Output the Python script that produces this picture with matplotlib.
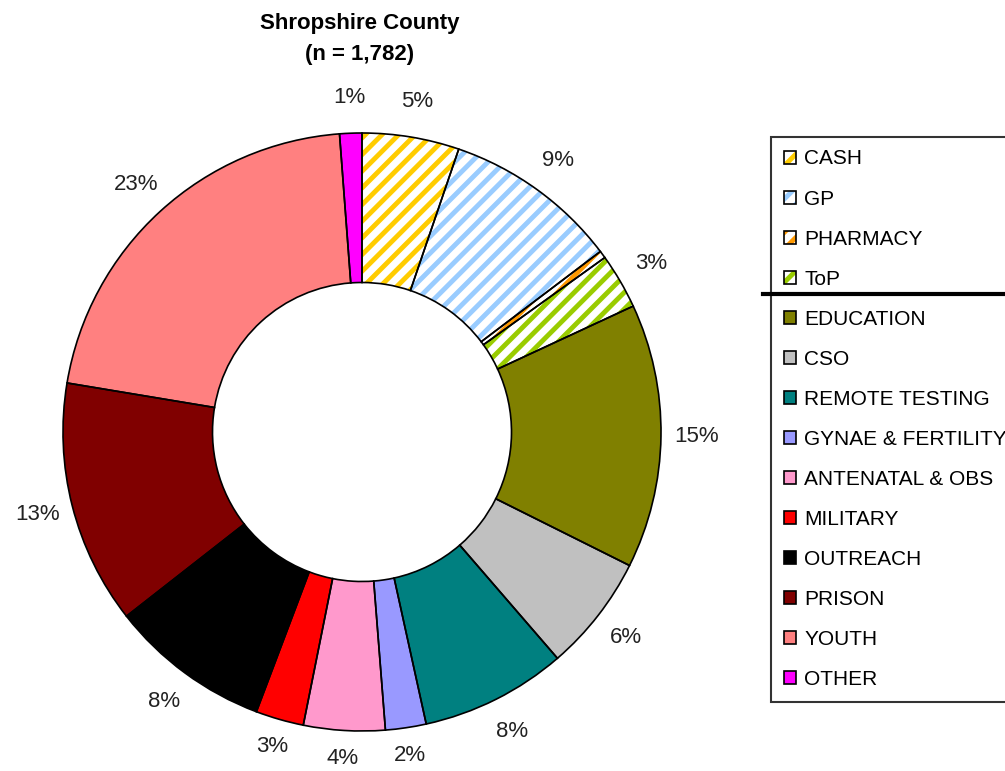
import numpy as np
import matplotlib
matplotlib.use("Agg")
from matplotlib import pyplot as plt
from matplotlib.patches import Patch
from matplotlib.lines import Line2D

plt.rcParams['font.family'] = ['Liberation Sans', 'DejaVu Sans']
plt.rcParams['hatch.linewidth'] = 3.5

# services, clockwise from 12 o'clock
servicios = ["CASH", "GP", "PHARMACY", "ToP", "EDUCATION", "CSO", "REMOTE TESTING",
             "GYNAE & FERTILITY", "ANTENATAL & OBS", "MILITARY", "OUTREACH",
             "PRISON", "YOUTH", "OTHER"]
porcentajes = [5.25, 9.45, 0.4, 3.0, 14.3, 6.3, 7.9, 2.2, 4.4, 2.6, 8.7, 13.2, 21.2, 1.2]
etiquetas = ["5%", "9%", "", "3%", "15%", "6%", "8%", "2%", "4%", "3%", "8%", "13%", "23%", "1%"]
colores = ["#FFCC00", "#99CCFF", "#FF9900", "#99CC00", "#808000", "#C0C0C0", "#008080",
           "#9999FF", "#FF99CC", "#FF0000", "#000000", "#800000", "#FF8080", "#FF00FF"]
rayado = [True, True, True, True] + [False] * 10

fig = plt.figure(figsize=(10.05, 7.71), dpi=100)

# axes sized so radius 1 = 299 px, centre at (362, 432) px
W, H = 1005, 771
half = 330
ax = fig.add_axes([(362 - half) / W, (H - 432 - half) / H, 2 * half / W, 2 * half / H])

# fill pass
wedges, _ = ax.pie(porcentajes, startangle=90, counterclock=False,
                   wedgeprops=dict(width=0.5, linewidth=0))
for w, c, h in zip(wedges, colores, rayado):
    if h:
        w.set_facecolor('white')
        w.set_edgecolor(c)
        w.set_hatch('//')
    else:
        w.set_facecolor(c)

# outline pass
outline, _ = ax.pie(porcentajes, startangle=90, counterclock=False,
                    wedgeprops=dict(width=0.5, facecolor='none', edgecolor='black', linewidth=1.2))

# pie() resets the limits, so set them afterwards
lim = half / 299
ax.set_xlim(-lim, lim)
ax.set_ylim(-lim, lim)
ax.set_aspect('equal')
ax.axis('off')

# porcentajes fuera del anillo
for w, txt in zip(wedges, etiquetas):
    if not txt:
        continue
    ang = np.deg2rad((w.theta1 + w.theta2) / 2)
    r = 1.12 if np.sin(ang) > -0.9 else 1.095
    ax.text(r * np.cos(ang), r * np.sin(ang), txt, ha='center', va='center',
            fontsize=16, color='#222222')

fig.text(360 / W, 1 - 39 / H, "Shropshire County\n(n = 1,782)", ha='center', va='center',
         fontsize=16, fontweight='bold', linespacing=1.65)

handles = []
for c, h in zip(colores, rayado):
    if h:
        handles.append((Patch(facecolor='white', edgecolor=c, hatch='//', linewidth=0),
                        Patch(facecolor='none', edgecolor='black', linewidth=1.2)))
    else:
        handles.append(Patch(facecolor=c, edgecolor='black', linewidth=1.2))

leg = fig.legend(handles, servicios, loc='upper left',
                 bbox_to_anchor=(771 / W, 1 - 137 / H), borderaxespad=0,
                 fontsize=15, handlelength=0.6, handleheight=0.6, handletextpad=0.4,
                 labelspacing=1.01, fancybox=False, frameon=True, borderpad=0.6)
frame = leg.get_frame()
frame.set_edgecolor('black')
frame.set_linewidth(1.5)

# thick separator between the hatched and solid groups
fig.add_artist(Line2D([763 / W, 1.0], [1 - 294 / H] * 2, color='black', linewidth=3, zorder=10))

fig.savefig("out.png", dpi=100)
